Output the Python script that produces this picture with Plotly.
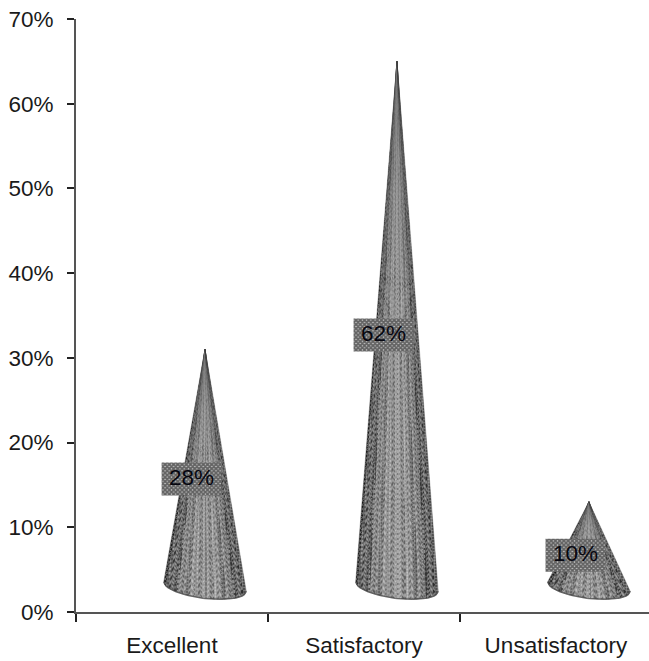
import math
import plotly.graph_objects as go

categories = ["Excellent", "Satisfactory", "Unsatisfactory"]
shares = [28, 62, 10]
value_labels = ["28%", "62%", "10%"]
y_ticks = [0, 10, 20, 30, 40, 50, 60, 70]
y_tick_labels = ["0%", "10%", "20%", "30%", "40%", "50%", "60%", "70%"]

# Projection of the 3D cones onto the flat axes (category units, percent units)
DEPTH_X = 0.172
DEPTH_Y = 3.0
RADIUS_X = 0.215
RIM_DROP = 1.4
RIM_TILT = 0.55
WEDGES = 34

X_RANGE = [-0.5, 2.485]
FONT = "Liberation Sans, Arial, sans-serif"
TICK_SIZE = 22.5


def rim_point(center, t):
    """Point on the front rim of a cone base, t running from -1 to 1."""
    x = center + DEPTH_X + RADIUS_X * t
    y = DEPTH_Y - RIM_TILT * t - RIM_DROP * math.sqrt(max(0.0, 1 - t * t))
    return x, y


def wedge_gray(mid, index):
    """Dark towards the silhouette, lighter in the middle, with alternating bands."""
    level = 40 + 85 * (1 - abs(mid) ** 2)
    level += (-22, 24, -8, 14, -26)[index % 5]
    return int(max(18, min(190, level)))


fig = go.Figure()

# Invisible carrier so the category axis owns the labels and boundary ticks
fig.add_trace(go.Scatter(x=categories, y=shares, mode="markers",
                         marker=dict(opacity=0), showlegend=False,
                         hoverinfo="skip", xaxis="x", yaxis="y"))

for pos, value in enumerate(shares):
    apex_x = pos + DEPTH_X
    apex_y = value + DEPTH_Y
    for i in range(WEDGES):
        # even spacing across the visible width of the base
        t0 = -1 + 2 * i / WEDGES
        t1 = -1 + 2 * (i + 1) / WEDGES
        steps = [t0 + (t1 - t0) * k / 3 for k in range(4)]
        rim = [rim_point(pos, t) for t in steps]
        g = wedge_gray((t0 + t1) / 2, i)
        fig.add_trace(go.Scatter(
            x=[apex_x] + [p[0] for p in rim] + [apex_x],
            y=[apex_y] + [p[1] for p in rim] + [apex_y],
            mode="lines", line=dict(width=0.3, color=f"rgb({g},{g},{g})"),
            fill="toself",
            fillcolor=f"rgb({g},{g},{g})",
            fillpattern=dict(shape=("x", ".", "/", "\\")[i % 4], size=(3, 4, 5)[i % 3],
                             solidity=0.5,
                             fgcolor="rgba(255,255,255,0.9)",
                             bgcolor=f"rgb({g},{g},{g})"),
            showlegend=False, hoverinfo="skip", xaxis="x2", yaxis="y"))
    # soft shadow along the bottom of the base
    rim = [rim_point(pos, -1 + 2 * k / 40) for k in range(41)]
    fig.add_trace(go.Scatter(
        x=[p[0] for p in rim], y=[p[1] for p in rim], mode="lines",
        line=dict(width=1.5, color="rgba(70,70,70,0.7)"), showlegend=False,
        hoverinfo="skip", xaxis="x2", yaxis="y"))

# Data labels: stippled box with the value on top, anchored halfway up each cone
BOX_W = 0.156
BOX_H = 1.95
label_x = [pos + DEPTH_X - 0.07 for pos in range(len(shares))]
label_y = [v / 2 + 1.7 for v in shares]
for lx, ly in zip(label_x, label_y):
    fig.add_trace(go.Scatter(
        x=[lx - BOX_W, lx + BOX_W, lx + BOX_W, lx - BOX_W, lx - BOX_W],
        y=[ly - BOX_H, ly - BOX_H, ly + BOX_H, ly + BOX_H, ly - BOX_H],
        mode="lines", line=dict(width=0), fill="toself", fillcolor="#ffffff",
        fillpattern=dict(shape="x", size=3, solidity=0.8,
                         fgcolor="#000000", bgcolor="#c4c4c4"),
        showlegend=False, hoverinfo="skip", xaxis="x2", yaxis="y"))
fig.add_trace(go.Scatter(
    x=label_x, y=label_y, mode="text", text=value_labels,
    textposition="middle center",
    textfont=dict(family=FONT, size=TICK_SIZE, color="#06060f"),
    showlegend=False, hoverinfo="skip", xaxis="x2", yaxis="y"))

tick_font = dict(family=FONT, size=TICK_SIZE, color="#1a1a1a")
fig.update_layout(
    width=649, height=661, autosize=False,
    margin=dict(l=76, r=0, t=19, b=49),
    paper_bgcolor="white", plot_bgcolor="white",
    showlegend=False,
    font=dict(family=FONT, size=TICK_SIZE, color="#1a1a1a"),
    xaxis=dict(type="category",
               categoryorder="array", categoryarray=categories,
               range=X_RANGE, tickson="boundaries", ticks="outside",
               ticklen=8, tickwidth=1.5, tickcolor="#222222",
               showgrid=False, zeroline=False, showline=True,
               linecolor="#555555", linewidth=2, ticklabelstandoff=12,
               tickfont=tick_font),
    xaxis2=dict(overlaying="x", range=X_RANGE, visible=False),
    yaxis=dict(range=[0, 70], tickmode="array", tickvals=y_ticks,
               ticktext=y_tick_labels, ticks="outside", ticklen=7,
               tickwidth=1.5, tickcolor="#222222", showgrid=False,
               zeroline=False, showline=True, linecolor="#555555", linewidth=2,
               ticklabelstandoff=9, tickfont=tick_font),
)

fig.write_html("out.html", config=dict(displayModeBar=False))
